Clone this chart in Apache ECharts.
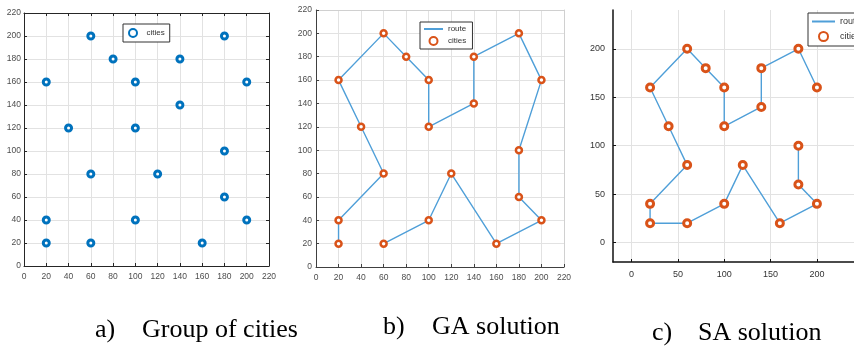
<!DOCTYPE html>
<html><head><meta charset="utf-8">
<script src="https://cdn.jsdelivr.net/npm/echarts@6/dist/echarts.min.js"></script>
<style>html,body{margin:0;padding:0;background:#fff;}#c{width:854px;height:347px;}</style>
</head><body><div id="c"></div>
<script>
const cities = [[20,20],[20,40],[20,160],[40,120],[60,20],[60,80],[60,200],[80,180],[100,40],[100,120],[100,160],[120,80],[140,140],[140,180],[160,20],[180,60],[180,100],[180,200],[200,40],[200,160]];
const gaRoute = [[20,20],[20,40],[60,80],[40,120],[20,160],[60,200],[80,180],[100,160],[100,120],[140,140],[140,180],[180,200],[200,160],[180,100],[180,60],[200,40],[160,20],[120,80],[100,40],[60,20]];
const saRoute = [[200,160],[180,200],[140,180],[140,140],[100,120],[100,160],[80,180],[60,200],[20,160],[40,120],[60,80],[20,40],[20,20],[60,20],[100,40],[120,80],[160,20],[200,40],[180,60],[180,100]];
const abTicks = [0,20,40,60,80,100,120,140,160,180,200,220];
const cTicks = [0,50,100,150,200];
const captions = [["a)","Group of cities"],["b)","GA solution"],["c)","SA solution"]];

const chart = echarts.init(document.getElementById('c'), null, {renderer:'canvas'});
const gridCol = '#e2e2e2';
const lblA = {fontSize:8.5, color:'#4d4d4d', fontFamily:'Liberation Sans'};
function mainAxis(gi, min, max, interval, lineCol, margin, extra){
  return Object.assign({
    gridIndex:gi, type:'value', min:min, max:max, interval:interval,
    axisLine:{show:true, onZero:false, lineStyle:{color:lineCol, width:1}},
    axisTick:{show:true, inside:true, length:3, lineStyle:{color:lineCol}},
    axisLabel:Object.assign({margin:margin}, lblA),
    splitLine:{show:true, lineStyle:{color:gridCol, width:1}}
  }, extra||{});
}
function sideAxis(gi, pos, min, max, interval, lineCol, showTick){
  return {gridIndex:gi, type:'value', position:pos, min:min, max:max, interval:interval,
    axisLine:{show:true, onZero:false, lineStyle:{color:lineCol, width:1}},
    axisTick:{show:showTick, inside:true, length:3, lineStyle:{color:lineCol}},
    axisLabel:{show:false}, splitLine:{show:false}};
}
const xAxes = [
  mainAxis(0,0,220,20,'#262626',6),
  sideAxis(0,'top',0,220,20,'#262626',true),
  mainAxis(1,0,220,20,'#404040',6),
  sideAxis(1,'top',0,220,20,'#d0d0d0',false),
  {gridIndex:2, type:'value', min:-20, max:240,
    axisLine:{show:true, onZero:false, lineStyle:{color:'#111', width:1.5}},
    axisTick:{show:true, inside:true, length:3, customValues:cTicks, lineStyle:{color:'#111'}},
    axisLabel:{customValues:cTicks, margin:8, fontSize:9, color:'#333', fontFamily:'Liberation Sans'},
    splitLine:{show:true, lineStyle:{color:gridCol, width:1}}}
];
const yAxes = [
  mainAxis(0,0,220,20,'#262626',3),
  sideAxis(0,'right',0,220,20,'#262626',true),
  mainAxis(1,0,220,20,'#404040',4),
  sideAxis(1,'right',0,220,20,'#d0d0d0',false),
  {gridIndex:2, type:'value', min:-20, max:240,
    axisLine:{show:true, onZero:false, lineStyle:{color:'#111', width:1.5}},
    axisTick:{show:true, inside:true, length:3, customValues:cTicks, lineStyle:{color:'#111'}},
    axisLabel:{customValues:cTicks, margin:8, fontSize:9, color:'#333', fontFamily:'Liberation Sans'},
    splitLine:{show:true, lineStyle:{color:gridCol, width:1}}}
];
const blue = '#0072BD', orange = '#D95319', routeCol = '#4f9fd8';
function cityS(name, xi, yi, col, size, bw){
  return {name:name, type:'scatter', xAxisIndex:xi, yAxisIndex:yi, data:cities, symbol:'circle', symbolSize:size,
    itemStyle:{color:'#ffffff', borderColor:col, borderWidth:bw, opacity:1}, z:5, silent:true};
}
function routeS(name, xi, yi, data){
  return {name:name, type:'line', xAxisIndex:xi, yAxisIndex:yi, data:data, symbol:'none', showSymbol:false,
    lineStyle:{color:routeCol, width:1.4}, itemStyle:{color:routeCol}, z:3, silent:true};
}
const legText = {fontSize:8, color:'#333', fontFamily:'Liberation Sans'};
function leg(left, top, data, pad, iw, ih, gap, fs){
  return {left:left, top:top, orient:'vertical', data:data, padding:pad, itemWidth:iw, itemHeight:ih, itemGap:gap,
    borderColor:'#333', borderWidth:1, backgroundColor:'#fff', selectedMode:false,
    textStyle:Object.assign({}, legText, {fontSize:fs}), z:10};
}
const graphics = [];
const capPos = [[95,142,340],[383,432,337],[652,698,343]];
captions.forEach((c,i)=>{
  const p = capPos[i];
  graphics.push({type:'text', left:p[0], top:p[2]-23, style:{text:c[0], font:'26px "Liberation Serif"', fill:'#000'}});
  graphics.push({type:'text', left:p[1], top:p[2]-23, style:{text:c[1], font:'26px "Liberation Serif"', fill:'#000'}});
});
chart.setOption({
  animation:false,
  backgroundColor:'#fff',
  grid:[
    {left:24, top:13, width:245, height:253},
    {left:316, top:10, width:248, height:257},
    {left:613, top:10, width:250, height:252}
  ],
  xAxis:xAxes, yAxis:yAxes,
  legend:[
    leg(123,24,['cities'],[4,5,4,5],17,8,3,8),
    leg(420,22,[{name:'route ', itemStyle:{opacity:0}},'cities '],[3,4,3,3],19,8,3,8),
    leg(808,13,[{name:'route', itemStyle:{opacity:0}},'cities  '],[4,4,4,3],23,9,5,9)
  ],
  series:[
    cityS('cities',0,0,blue,6,3),
    routeS('route ',2,2,gaRoute),
    cityS('cities ',2,2,orange,6,2.5),
    routeS('route',4,4,saRoute),
    cityS('cities  ',4,4,orange,7,3)
  ],
  graphic:graphics
});
</script></body></html>
